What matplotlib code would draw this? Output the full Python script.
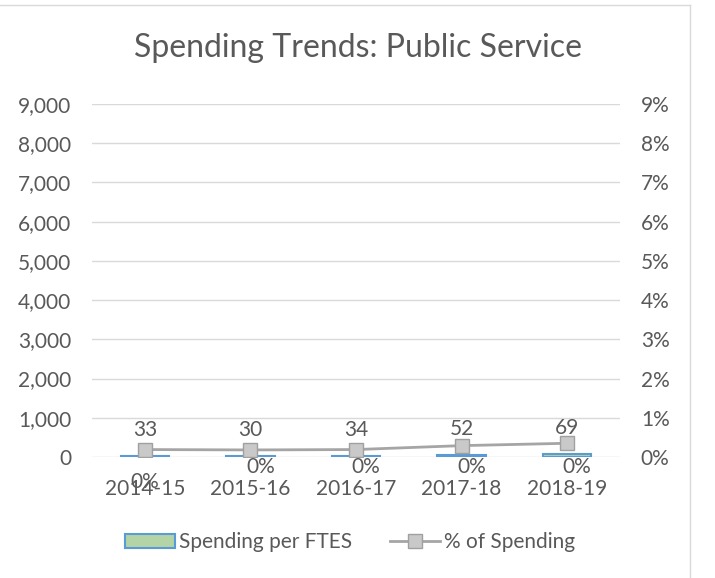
import matplotlib
matplotlib.use('Agg')
import matplotlib.pyplot as plt
from matplotlib.ticker import FuncFormatter
from matplotlib.lines import Line2D
import numpy as np

# chart data
YEARS = ['2014-15', '2015-16', '2016-17', '2017-18', '2018-19']
SPENDING_PER_FTES = [33, 30, 34, 52, 69]
PCT_OF_SPENDING = [0.0019, 0.0018, 0.0019, 0.0029, 0.0035]
LEFT_TICKS = [0, 1000, 2000, 3000, 4000, 5000, 6000, 7000, 8000, 9000]
RIGHT_TICKS = [0.0, 0.01, 0.02, 0.03, 0.04, 0.05, 0.06, 0.07, 0.08, 0.09]

TEXT = '#595959'
GRID = '#d9d9d9'
BAR_FILL = '#b4d3a6'
BAR_EDGE = '#5b9bd5'
LINE = '#a5a5a5'
MARKER_FILL = '#c9c9c9'
W, H = 715, 578
FS = 15

plt.rcParams['font.family'] = ['Lato', 'DejaVu Sans']

fig = plt.figure(figsize=(W / 100, H / 100), dpi=100)
ax = fig.add_axes([92 / W, 1 - 457 / H, 528 / W, 353 / H])
ax2 = ax.twinx()

x = np.arange(len(YEARS))
ax.bar(x, SPENDING_PER_FTES, width=0.46, color=BAR_FILL,
       edgecolor=BAR_EDGE, linewidth=1.5, zorder=2,
       label='Spending per FTES')
ax.set_xlim(-0.5, len(YEARS) - 0.5)
ax.set_ylim(0, 9000)
ax.set_yticks(LEFT_TICKS)
ax.yaxis.set_major_formatter(FuncFormatter(lambda v, p: '{:,.0f}'.format(v)))
ax.set_xticks(x)
ax.set_xticklabels(YEARS)
ax.grid(axis='y', color=GRID, lw=1)
ax.set_axisbelow(True)

ax2.plot(x, PCT_OF_SPENDING, color=LINE, lw=2, marker='s', ms=9.5,
         mfc=MARKER_FILL, mec='#a0a0a0', mew=1, zorder=3,
         label='% of Spending')
ax2.set_ylim(0, 0.09)
ax2.set_yticks(RIGHT_TICKS)
ax2.yaxis.set_major_formatter(FuncFormatter(lambda v, p: '{:.0f}%'.format(v * 100)))

for a in (ax, ax2):
    for s in a.spines.values():
        s.set_visible(False)
    a.tick_params(length=0, labelsize=FS, labelcolor=TEXT)
ax.tick_params(axis='y', pad=15)
ax.tick_params(axis='x', pad=16)
ax2.tick_params(axis='y', pad=15)

# data labels
for i, v in enumerate(SPENDING_PER_FTES):
    ax.annotate(str(v), (i, v), xytext=(0, 26), textcoords='offset pixels',
                ha='center', va='center', fontsize=FS, color=TEXT)
for i, p in enumerate(PCT_OF_SPENDING):
    off = (0, -25) if i == 0 else (10, -10)
    ax.annotate('{:.0f}%'.format(p * 100), (i, 0), xytext=off,
                textcoords='offset pixels', ha='center', va='center',
                fontsize=FS, color=TEXT)

fig.text(0.5, 1 - 48 / H, 'Spending Trends: Public Service',
         ha='center', va='center', fontsize=23, color=TEXT)

h1, l1 = ax.get_legend_handles_labels()
h2, l2 = ax2.get_legend_handles_labels()
fig.legend(h1 + h2, l1 + l2, loc='center', ncol=2,
           bbox_to_anchor=(350 / W, 1 - 542 / H), frameon=False,
           fontsize=FS, labelcolor=TEXT, handlelength=2.4,
           handleheight=0.65, handletextpad=0.2, columnspacing=1.8)

# chart border (top and right only visible)
fig.add_artist(Line2D([0, 690 / W], [1 - 5 / H, 1 - 5 / H],
                      transform=fig.transFigure, color=GRID, lw=1))
fig.add_artist(Line2D([690 / W, 690 / W], [0, 1 - 5 / H],
                      transform=fig.transFigure, color=GRID, lw=1))

fig.savefig('out.png', dpi=100)
